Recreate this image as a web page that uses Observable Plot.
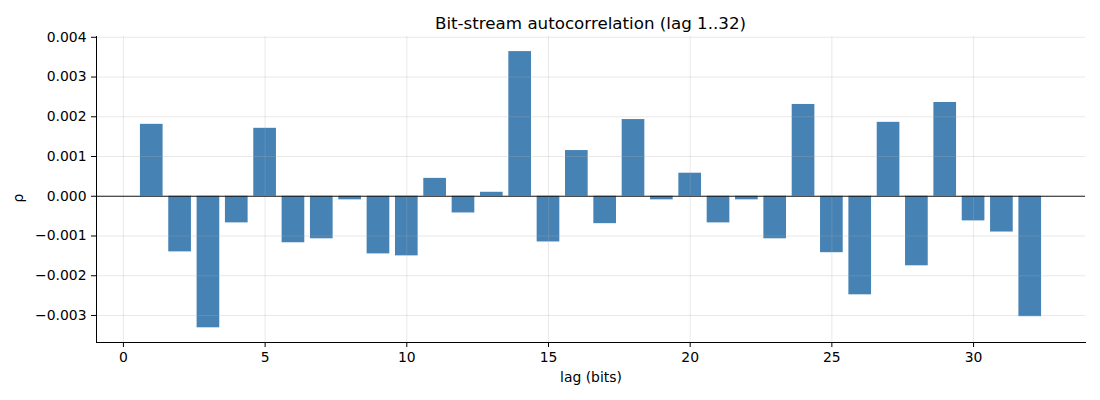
<!DOCTYPE html>
<html>
<head>
<meta charset="utf-8">
<script src="https://cdn.jsdelivr.net/npm/d3@7"></script>
<script src="https://cdn.jsdelivr.net/npm/@observablehq/plot@0.6"></script>
<style>
  html, body { margin: 0; padding: 0; background: #fff; }
  #wrap { position: relative; width: 1100px; height: 400px; font-family: "DejaVu Sans", sans-serif; }
  #title { position: absolute; top: 13px; left: 96px; width: 989px; text-align: center; font-size: 16.7px; color: #000; }
</style>
</head>
<body>
<div id="wrap">
  <div id="title">Bit-stream autocorrelation (lag 1..32)</div>
  <div id="chart"></div>
</div>
<script>
const lags = d3.range(1, 33);
const rho = [
  0.00181, -0.00140, -0.00331, -0.00067, 0.00171, -0.00117, -0.00107, -0.00009,
  -0.00145, -0.00150, 0.00045, -0.00042, 0.00010, 0.00364, -0.00115, 0.00115,
  -0.00069, 0.00193, -0.00009, 0.00058, -0.00067, -0.00009, -0.00107, 0.00231,
  -0.00142, -0.00248, 0.00186, -0.00175, 0.00236, -0.00062, -0.00090, -0.00303
];
const xTicks = [0, 5, 10, 15, 20, 25, 30];
const yTicks = [-0.003, -0.002, -0.001, 0, 0.001, 0.002, 0.003, 0.004];
const barColor = "#4682b4";

const data = lags.map((lag, i) => ({lag, rho: rho[i]}));
const fmt = d3.format(".3f");

const chart = Plot.plot({
  width: 1100,
  height: 400,
  marginLeft: 96,
  marginRight: 15,
  marginTop: 36,
  marginBottom: 58,
  style: {fontFamily: "DejaVu Sans, sans-serif", fontSize: "13.9px", color: "#000", background: "#fff"},
  x: {domain: [-0.95, 33.95], label: null},
  y: {domain: [-0.00368, 0.00402], label: null},
  marks: [
    Plot.rectY(data, {x1: d => d.lag - 0.4, x2: d => d.lag + 0.4, y1: 0, y2: "rho", fill: barColor, inset: 0}),
    Plot.gridX(xTicks, {stroke: "#b0b0b0", strokeOpacity: 0.35, strokeWidth: 0.8}),
    Plot.gridY(yTicks, {stroke: "#b0b0b0", strokeOpacity: 0.35, strokeWidth: 0.8}),
    Plot.ruleY([0], {stroke: "#000", strokeWidth: 0.9}),
    Plot.axisX(xTicks, {tickSize: 5, tickPadding: 5, stroke: "#000", fontSize: 13.9, label: null}),
    Plot.axisY(yTicks, {tickSize: 5, tickPadding: 5, stroke: "#000", fontSize: 13.9, tickFormat: fmt, label: null}),
    Plot.frame({anchor: "left", stroke: "#000", strokeWidth: 1}),
    Plot.frame({anchor: "bottom", stroke: "#000", strokeWidth: 1}),
    Plot.text(["lag (bits)"], {frameAnchor: "bottom", dy: 39, fontSize: 13.9, fill: "#000"})
  ]
});
document.getElementById("chart").appendChild(chart);
</script>
<div style="position:absolute; left:14px; top:190px; font-family:'DejaVu Sans',sans-serif; font-size:13.9px; transform:rotate(-90deg);">ρ</div>
</body>
</html>
